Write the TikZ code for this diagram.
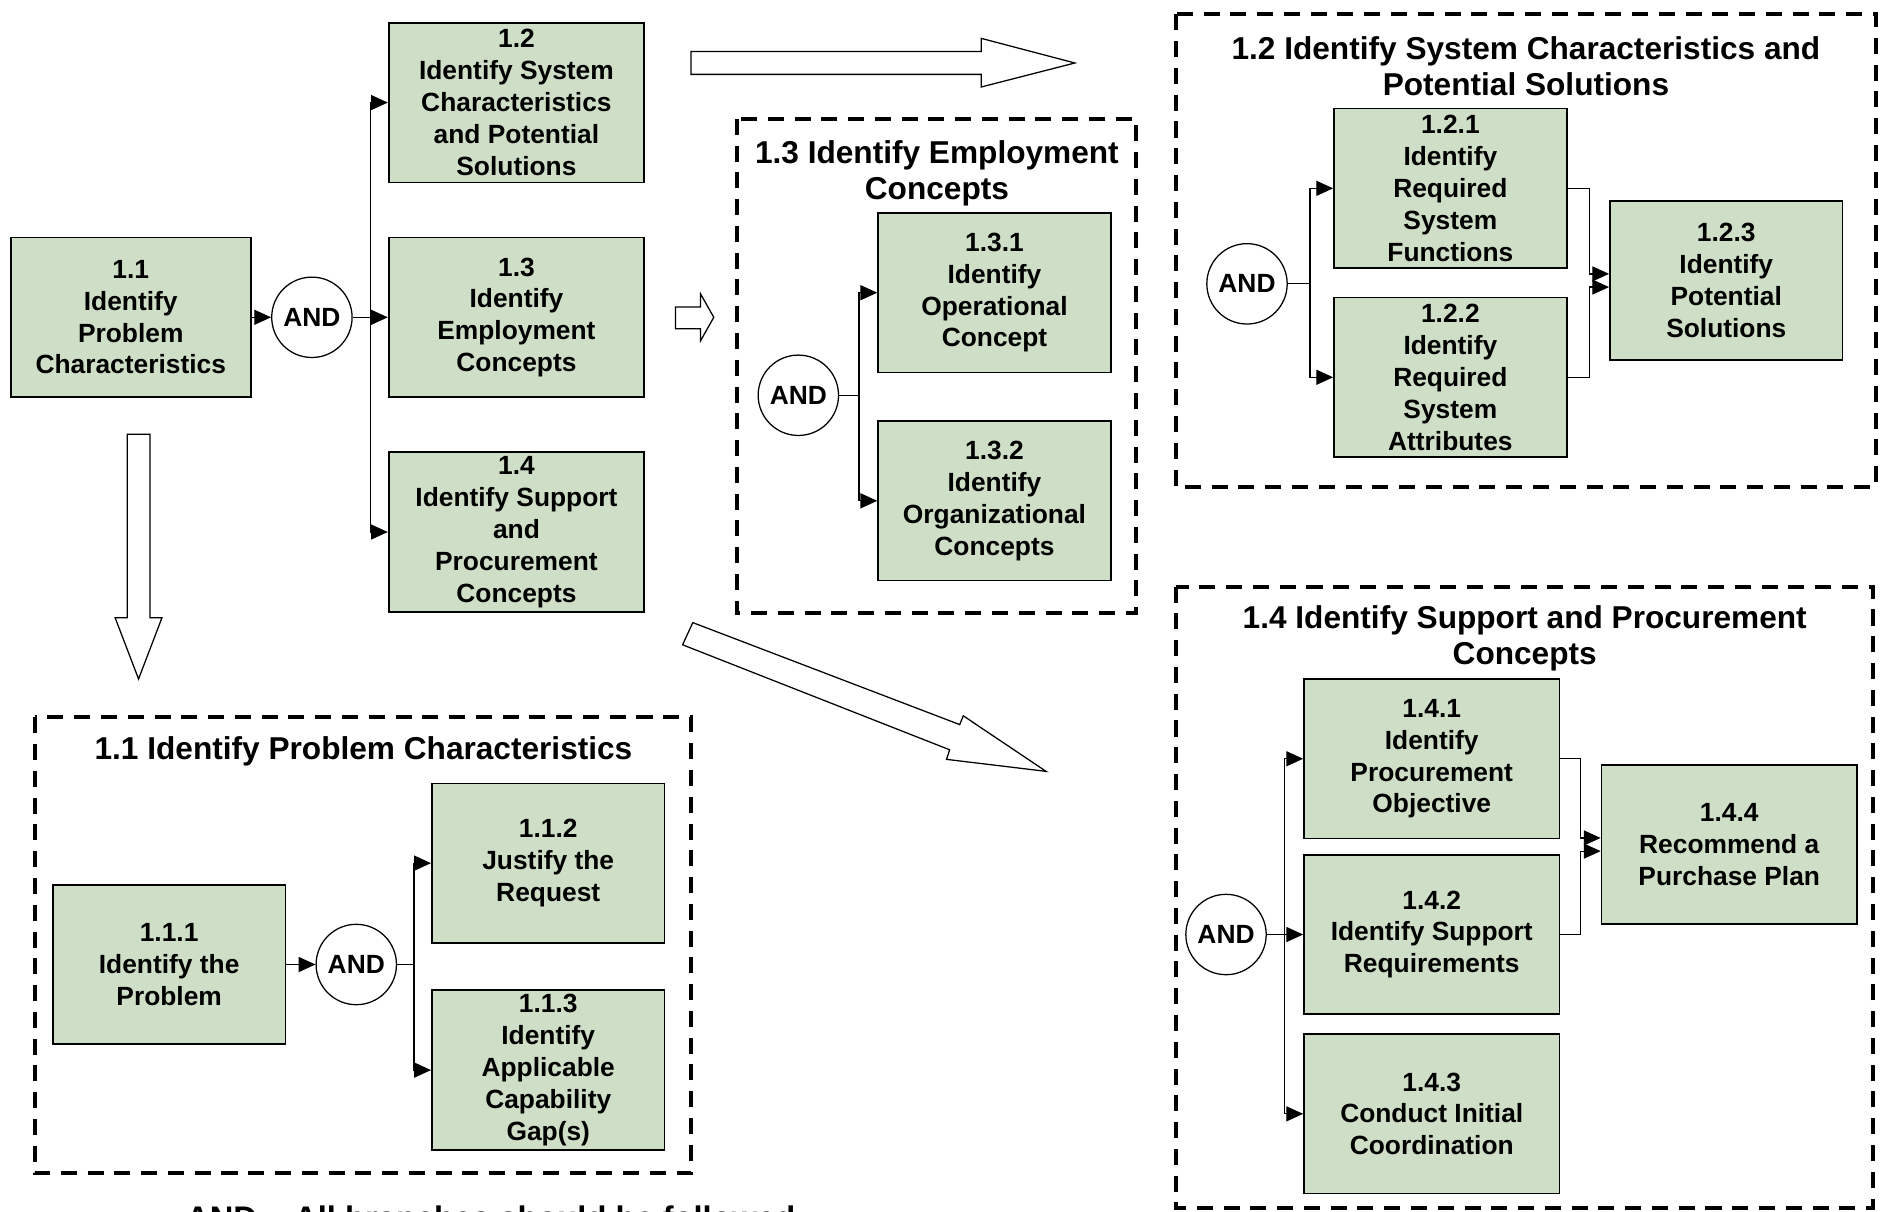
\documentclass[tikz,border=0pt]{standalone}
\usepackage{fontspec}
\setmainfont{Liberation Sans}
\usepackage{xcolor}
\usetikzlibrary{arrows.meta}
\definecolor{taskgreen}{HTML}{CFDEC6}

\tikzset{
    task/.style={draw, line width=0.8pt, fill=taskgreen, minimum width=3.88cm, minimum height=2.66cm,
        inner sep=0pt, align=center, font=\fontsize{12.5}{15.1}\selectfont\bfseries},
    widetask/.style={task, minimum width=4.26cm},
    andgate/.style={draw, circle, line width=0.6pt, minimum size=1.34cm, inner sep=0pt,
        font=\fontsize{12.5}{15}\selectfont\bfseries},
    groupbox/.style={line width=1.9pt, dash pattern=on 7.6pt off 5.1pt},
    grouptitle/.style={align=center, font=\fontsize{15}{17.2}\selectfont\bfseries},
    link/.style={line width=0.6pt, -{Triangle[length=0.28cm,width=0.25cm]}},
    plainlink/.style={line width=0.6pt},
    bigarrow/.style={draw, line width=0.6pt, fill=white, line join=miter}
}

\begin{document}
\begin{tikzpicture}[x=0.2mm, y=-0.2mm]
                \useasboundingbox (0,0) rectangle (1568,1010);
                % top level
                \node[task, minimum width=4cm] (box11) at (109,264.5) {1.1\\Identify\\Problem\\Characteristics};
                \node[andgate] (and1) at (260,264.5) {AND};
                \node[widetask] (box12) at (430.5,85.5) {1.2\\Identify System\\Characteristics\\and Potential\\Solutions};
                \node[widetask] (box13) at (430.5,264.5) {1.3\\Identify\\Employment\\Concepts};
                \node[widetask] (box14) at (430.5,443.5) {1.4\\Identify Support\\and\\Procurement\\Concepts};
                \coordinate (br1) at (309,264.5);
                \draw[link] (box11) -- (and1);
                \draw[plainlink] (and1) -- (br1);
                \draw[link] (br1) |- (box12);
                \draw[link] (br1) -- (box13);
                \draw[link] (br1) |- (box14);

                % block arrows
                \draw[bigarrow] (576,43) -- (818,43) -- (818,32) -- (896,52.5) -- (818,72.5) -- (818,62) -- (576,62) -- cycle;
                \draw[bigarrow] (563,256) -- (584,256) -- (584,245) -- (595,264.5) -- (584,284) -- (584,274) -- (563,274) -- cycle;
                \draw[bigarrow] (106,362) -- (125,362) -- (125,515) -- (135,515) -- (115.5,566) -- (96,515) -- (106,515) -- cycle;
                \draw[bigarrow] (577.5,519) -- (800,604) -- (803,596.7) -- (872,643) -- (789,633) -- (791.6,625) -- (569,537.5) -- cycle;

                % 1.1
                \draw[groupbox] (29,598) rectangle (576,978);
                \node[grouptitle] (t11) at (303,626.5) {1.1 Identify Problem Characteristics};
                \node[task] (box111) at (141,804) {1.1.1\\Identify the\\Problem};
                \node[andgate] (and11) at (297,804) {AND};
                \node[task] (box112) at (457,719.5) {1.1.2\\Justify the\\Request};
                \node[task] (box113) at (457,892) {1.1.3\\Identify\\Applicable\\Capability\\Gap(s)};
                \coordinate (br11) at (345,804);
                \draw[link] (box111) -- (and11);
                \draw[plainlink] (and11) -- (br11);
                \draw[link] (br11) |- (box112);
                \draw[link] (br11) |- (box113);

                % 1.3
                \draw[groupbox] (614,99) rectangle (947,511);
                \node[grouptitle] (t13) at (781,144.5) {1.3 Identify Employment\\Concepts};
                \node[andgate] (and13) at (665.5,329.5) {AND};
                \node[task] (box131) at (829,244) {1.3.1\\Identify\\Operational\\Concept};
                \node[task] (box132) at (829,417.5) {1.3.2\\Identify\\Organizational\\Concepts};
                \coordinate (br13) at (716,329.5);
                \draw[plainlink] (and13) -- (br13);
                \draw[link] (br13) |- (box131);
                \draw[link] (br13) |- (box132);

                % 1.2
                \draw[groupbox] (980,12) rectangle (1564,406);
                \node[grouptitle] (t12) at (1272,55) {1.2 Identify System Characteristics and\\Potential Solutions};
                \node[andgate] (and12) at (1039.5,236.6) {AND};
                \node[task] (box121) at (1209,157) {1.2.1\\Identify\\Required\\System\\Functions};
                \node[task] (box122) at (1209,314.5) {1.2.2\\Identify\\Required\\System\\Attributes};
                \node[task] (box123) at (1439,233.8) {1.2.3\\Identify\\Potential\\Solutions};
                \coordinate (br12) at (1092,236.6);
                \draw[plainlink] (and12) -- (br12);
                \draw[link] (br12) |- (box121);
                \draw[link] (br12) |- (box122);
                \draw[link] (box121.east) -- ++(18,0) |- ([yshift=0.11cm]box123.west);
                \draw[link] (box122.east) -- ++(18,0) |- ([yshift=-0.11cm]box123.west);

                % 1.4
                \draw[groupbox] (980,489) rectangle (1561,1007);
                \node[grouptitle] (t14) at (1271,532) {1.4 Identify Support and Procurement\\Concepts};
                \node[andgate] (and14) at (1022,779) {AND};
                \node[widetask] (box141) at (1193.5,632.5) {1.4.1\\Identify\\Procurement\\Objective};
                \node[widetask] (box142) at (1193.5,779) {1.4.2\\Identify Support\\Requirements};
                \node[widetask] (box143) at (1193.5,928.5) {1.4.3\\Conduct Initial\\Coordination};
                \node[widetask] (box144) at (1441.5,704) {1.4.4\\Recommend a\\Purchase Plan};
                \coordinate (br14) at (1071,779);
                \draw[plainlink] (and14) -- (br14);
                \draw[link] (br14) |- (box141);
                \draw[link] (br14) -- (box142);
                \draw[link] (br14) |- (box143);
                \draw[link] (box141.east) -- ++(17,0) |- ([yshift=0.11cm]box144.west);
                \draw[link] (box142.east) -- ++(17,0) |- ([yshift=-0.11cm]box144.west);

                \node[anchor=base west, font=\fontsize{15.5}{18}\selectfont\bfseries] (note) at (149,1025) {AND = All branches should be followed};
            \end{tikzpicture}
\end{document}
